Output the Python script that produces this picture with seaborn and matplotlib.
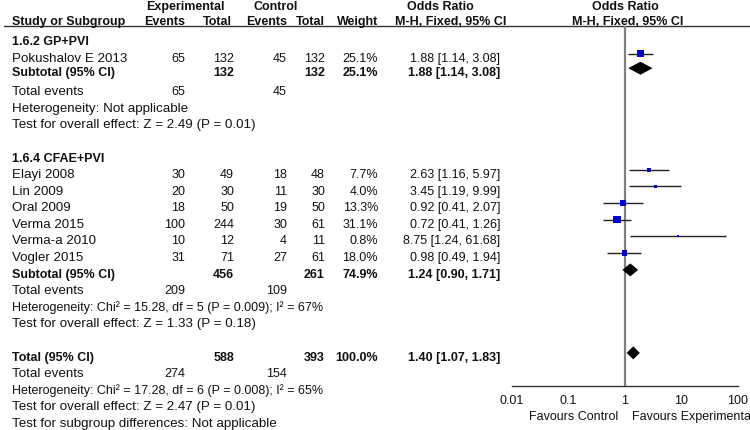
import numpy as np
import pandas as pd
import matplotlib
matplotlib.use('Agg')
import matplotlib.pyplot as plt
import seaborn as sns
from matplotlib.ticker import NullLocator

sns.set_style('white')
plt.rcParams['font.family'] = ['Liberation Sans', 'DejaVu Sans']

# ---------------- data ----------------
g1_name = '1.6.2 GP+PVI'
g1_studies = ['Pokushalov E 2013']
g1_exp_events = [65]
g1_exp_total = [132]
g1_ctl_events = [45]
g1_ctl_total = [132]
g1_weight = [25.1]
g1_or = [1.88]
g1_lo = [1.14]
g1_hi = [3.08]

g2_name = '1.6.4 CFAE+PVI'
g2_studies = ['Elayi 2008', 'Lin 2009', 'Oral 2009', 'Verma 2015', 'Verma-a 2010', 'Vogler 2015']
g2_exp_events = [30, 20, 18, 100, 10, 31]
g2_exp_total = [49, 30, 50, 244, 12, 71]
g2_ctl_events = [18, 11, 19, 30, 4, 27]
g2_ctl_total = [48, 30, 50, 61, 11, 61]
g2_weight = [7.7, 4.0, 13.3, 31.1, 0.8, 18.0]
g2_or = [2.63, 3.45, 0.92, 0.72, 8.75, 0.98]
g2_lo = [1.16, 1.19, 0.41, 0.41, 1.24, 0.49]
g2_hi = [5.97, 9.99, 2.07, 1.26, 61.68, 1.94]

# subtotal / total rows: (exp total, ctl total, weight, or, lo, hi, exp events, ctl events)
sub1 = [132, 132, 25.1, 1.88, 1.14, 3.08, 65, 45]
sub2 = [456, 261, 74.9, 1.24, 0.90, 1.71, 209, 109]
total = [588, 393, 100.0, 1.40, 1.07, 1.83, 274, 154]

sub1_het = 'Heterogeneity: Not applicable'
sub1_test = 'Test for overall effect: Z = 2.49 (P = 0.01)'
sub2_het = 'Heterogeneity: Chi\u00b2 = 15.28, df = 5 (P = 0.009); I\u00b2 = 67%'
sub2_test = 'Test for overall effect: Z = 1.33 (P = 0.18)'
tot_het = 'Heterogeneity: Chi\u00b2 = 17.28, df = 6 (P = 0.008); I\u00b2 = 65%'
tot_test = 'Test for overall effect: Z = 2.47 (P = 0.01)'
tot_sub = 'Test for subgroup differences: Not applicable'

tick_vals = [0.01, 0.1, 1, 10, 100]
tick_labels = ['0.01', '0.1', '1', '10', '100']

# ---------------- layout ----------------
W, H = 750, 431
def row(k):
    return 41 + 16.6 * k

X_NAME = 12
X_EE, X_ET, X_CE, X_CT, X_W, X_OR = 185, 234, 287, 325, 378, 500
FS_LAB = 9.6   # names and plain labels
FS_NUM = 9     # numbers
FS_B = 9       # bold rows
MOFF = -3      # markers sit slightly above the text line

fig = plt.figure(figsize=(W / 100, H / 100), dpi=100)
tax = fig.add_axes([0, 0, 1, 1])
tax.set_xlim(0, W)
tax.set_ylim(H, 0)
tax.axis('off')

def txt(x, y, s, ha='left', bold=False, fs=None):
    if fs is None:
        fs = FS_B if bold else FS_NUM
    tax.text(x, y + 4.3, s, ha=ha, va='baseline', fontsize=fs,
             fontweight='bold' if bold else 'normal', color='#111111')

# header
txt(185, 6, 'Experimental', ha='center', bold=True)
txt(276, 6, 'Control', ha='center', bold=True)
txt(440, 6, 'Odds Ratio', ha='center', bold=True)
txt(625, 6, 'Odds Ratio', ha='center', bold=True)
txt(X_NAME, 21, 'Study or Subgroup', bold=True)
txt(X_EE, 21, 'Events', ha='right', bold=True)
txt(X_ET - 2, 21, 'Total', ha='right', bold=True)
txt(X_CE, 21, 'Events', ha='right', bold=True)
txt(X_CT, 21, 'Total', ha='right', bold=True)
txt(X_W, 21, 'Weight', ha='right', bold=True)
txt(451, 21, 'M-H, Fixed, 95% CI', ha='center', bold=True)
txt(628, 21, 'M-H, Fixed, 95% CI', ha='center', bold=True)
tax.plot([4, W], [27, 27], color='#333333', lw=1)

def ci_str(o, l, h):
    return f'{o:.2f} [{l:.2f}, {h:.2f}]'

def study_rows(ks, names, ee, et, ce, ct, w, o, l, h):
    for k, n, a, b, c, d, ww, oo, ll, hh in zip(ks, names, ee, et, ce, ct, w, o, l, h):
        y = row(k)
        txt(X_NAME, y, n, fs=FS_LAB)
        txt(X_EE, y, str(a), ha='right')
        txt(X_ET, y, str(b), ha='right')
        txt(X_CE, y, str(c), ha='right')
        txt(X_CT, y, str(d), ha='right')
        txt(X_W, y, f'{ww:.1f}%', ha='right')
        txt(X_OR, y, ci_str(oo, ll, hh), ha='right')

def summary_rows(k, label, s):
    y = row(k)
    txt(X_NAME, y, label, bold=True)
    txt(X_ET, y, str(s[0]), ha='right', bold=True)
    txt(X_CT, y, str(s[1]), ha='right', bold=True)
    txt(X_W, y, f'{s[2]:.1f}%', ha='right', bold=True)
    txt(X_OR, y, ci_str(s[3], s[4], s[5]), ha='right', bold=True)

def event_block(k0, s, lines):
    y = row(k0)
    txt(X_NAME, y, 'Total events', fs=FS_LAB)
    txt(X_EE, y, str(s[6]), ha='right')
    txt(X_CE, y, str(s[7]), ha='right')
    for i, ln in enumerate(lines):
        fs = FS_NUM if ln.startswith('Heterogeneity: Chi') else FS_LAB
        txt(X_NAME, row(k0 + 1 + i), ln, fs=fs)

# group 1
txt(X_NAME, row(0), g1_name, bold=True)
g1_k = [1]
study_rows(g1_k, g1_studies, g1_exp_events, g1_exp_total, g1_ctl_events,
           g1_ctl_total, g1_weight, g1_or, g1_lo, g1_hi)
summary_rows(1.85, 'Subtotal (95% CI)', sub1)
event_block(3, sub1, [sub1_het, sub1_test])

# group 2
txt(X_NAME, row(7), g2_name, bold=True)
g2_k = [8, 9, 10, 11, 12, 13]
study_rows(g2_k, g2_studies, g2_exp_events, g2_exp_total, g2_ctl_events,
           g2_ctl_total, g2_weight, g2_or, g2_lo, g2_hi)
summary_rows(14, 'Subtotal (95% CI)', sub2)
event_block(15, sub2, [sub2_het, sub2_test])

# overall
summary_rows(19, 'Total (95% CI)', total)
event_block(20, total, [tot_het, tot_test, tot_sub])

# ---------------- forest panel ----------------
AX_L, AX_R, AX_T, AX_B = 512, 738, 27, 387
fax = fig.add_axes([AX_L / W, (H - AX_B) / H, (AX_R - AX_L) / W, (AX_B - AX_T) / H])
fax.patch.set_alpha(0)
fax.set_xscale('log')
fax.set_xlim(tick_vals[0], tick_vals[-1])
fax.set_ylim(AX_B, AX_T)

df = pd.DataFrame({
    'or': g1_or + g2_or,
    'lo': g1_lo + g2_lo,
    'hi': g1_hi + g2_hi,
    'weight': g1_weight + g2_weight,
    'y': [row(k) + MOFF for k in g1_k + g2_k],
})

fax.axvline(1, color='#808080', lw=1.6, zorder=1)
fax.hlines(df['y'], df['lo'], df['hi'], color='#222222', lw=1, zorder=2)
sns.scatterplot(data=df, x='or', y='y', size='weight', sizes=(2, 30),
                marker='s', color='#0000C8', linewidth=0, legend=False,
                ax=fax, zorder=3)

for k, s in [(1.85, sub1), (14, sub2), (19, total)]:
    y = row(k) + MOFF + 0.5
    fax.fill([s[4], s[3], s[5], s[3]], [y, y - 6.5, y, y + 6.5],
             color='black', lw=0, zorder=3)

for sp in ['top', 'right', 'left']:
    fax.spines[sp].set_visible(False)
fax.spines['bottom'].set_color('#333333')
fax.spines['bottom'].set_linewidth(1)
fax.set_yticks([])
fax.set_xticks(tick_vals)
fax.set_xticklabels(tick_labels)
fax.xaxis.set_minor_locator(NullLocator())
fax.tick_params(axis='x', direction='inout', length=6, width=1,
                color='#333333', labelsize=FS_NUM, labelcolor='#111111', pad=3)
fax.set_xlabel('')
fax.set_ylabel('')

txt(618, 416, 'Favours Control', ha='right')
txt(632, 416, 'Favours Experimental')

fig.savefig('out.png', dpi=100)
